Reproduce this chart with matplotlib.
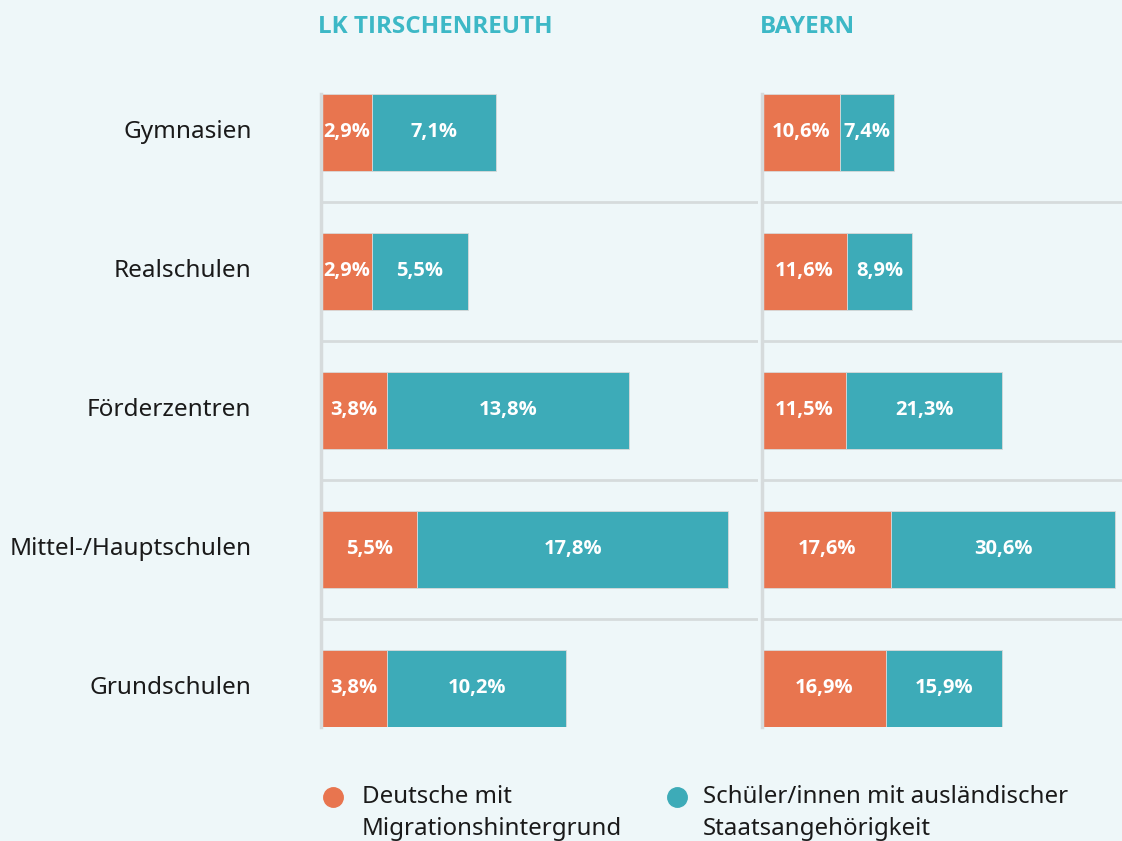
import matplotlib
matplotlib.use("Agg")
import matplotlib.pyplot as plt
from matplotlib.lines import Line2D

categories = ["Gymnasien", "Realschulen", "Förderzentren", "Mittel-/Hauptschulen", "Grundschulen"]
tir_deutsche = [2.9, 2.9, 3.8, 5.5, 3.8]
tir_ausl = [7.1, 5.5, 13.8, 17.8, 10.2]
bay_deutsche = [10.6, 11.6, 11.5, 17.6, 16.9]
bay_ausl = [7.4, 8.9, 21.3, 30.6, 15.9]
panel_titles = ["LK TIRSCHENREUTH", "BAYERN"]
legend_labels = ["Deutsche mit\nMigrationshintergrund", "Schüler/innen mit ausländischer\nStaatsangehörigkeit"]

BG = "#EEF7F9"
ORANGE = "#E8754F"
TEAL = "#3DABB8"
TITLE = "#3DB8C6"
GRID = "#D6DBDC"
FONT = ["Noto Sans", "DejaVu Sans"]
BOLD = ["Open Sans", "DejaVu Sans"]

plt.rcParams['font.family'] = FONT

fig = plt.figure(figsize=(11.22, 8.41), dpi=100, facecolor=BG)

W, H = 1122, 841
def ax_at(x0, x1, y0, y1):
    return fig.add_axes([x0 / W, 1 - y1 / H, (x1 - x0) / W, (y1 - y0) / H])

axes = [ax_at(321, 758, 94, 727), ax_at(762, 1122, 94, 727)]
xmax = [25.0, 49.1]
data = [(tir_deutsche, tir_ausl), (bay_deutsche, bay_ausl)]
ypos = list(range(len(categories)))

def fmt(v):
    return f"{v:.1f}".replace(".", ",") + "%"

for ax, (d1, d2), xm, title in zip(axes, data, xmax, panel_titles):
    ax.set_facecolor(BG)
    ax.set_xlim(0, xm)
    ax.set_ylim(len(categories) - 1 + 0.28, -0.275)
    for b in [0.5, 1.5, 2.5, 3.5]:
        ax.axhline(b, color=GRID, lw=2, zorder=1)
    ax.barh(ypos, d1, height=0.555, color=ORANGE, edgecolor="#d9d9d9", linewidth=0.6, zorder=2)
    ax.barh(ypos, d2, left=d1, height=0.555, color=TEAL, edgecolor="#d9d9d9", linewidth=0.6, zorder=2)
    for y, a, b in zip(ypos, d1, d2):
        ax.text(a / 2, y, fmt(a), ha="center", va="center", color="white",
                fontsize=14.5, fontweight="bold", family=BOLD, zorder=3)
        ax.text(a + b / 2, y, fmt(b), ha="center", va="center", color="white",
                fontsize=14.5, fontweight="bold", family=BOLD, zorder=3)
    for s in ["top", "right", "bottom"]:
        ax.spines[s].set_visible(False)
    ax.spines["left"].set_color(GRID)
    ax.spines["left"].set_linewidth(2.5)
    ax.spines["left"].set_zorder(4)
    ax.set_xticks([])
    ax.set_yticks([])
    ax.text(-0.006, 1 + (94 - 27) / 633, title, transform=ax.transAxes, ha="left", va="center",
            color=TITLE, fontsize=17.5, fontweight="bold", family=BOLD)

for y, c in zip(ypos, categories):
    axes[0].annotate(c, xy=(0, y), xycoords=("axes fraction", "data"), xytext=(-50, 0),
                     textcoords="offset points", ha="right", va="center",
                     fontsize=17.5, color="#1a1a1a", annotation_clip=False)

# legend
for (cx, tx), col, lab in zip([(333, 362), (677, 703)], [ORANGE, TEAL], legend_labels):
    fig.add_artist(Line2D([cx / W], [1 - 797 / H], marker="o", markersize=14,
                          color=col, markeredgecolor=col, linestyle="none"))
    for i, line in enumerate(lab.split("\n")):
        fig.text(tx / W, 1 - (797 + 32 * i) / H, line, ha="left", va="center", fontsize=17.3,
                 color="#1a1a1a")

fig.savefig("out.png", dpi=100, facecolor=BG)
